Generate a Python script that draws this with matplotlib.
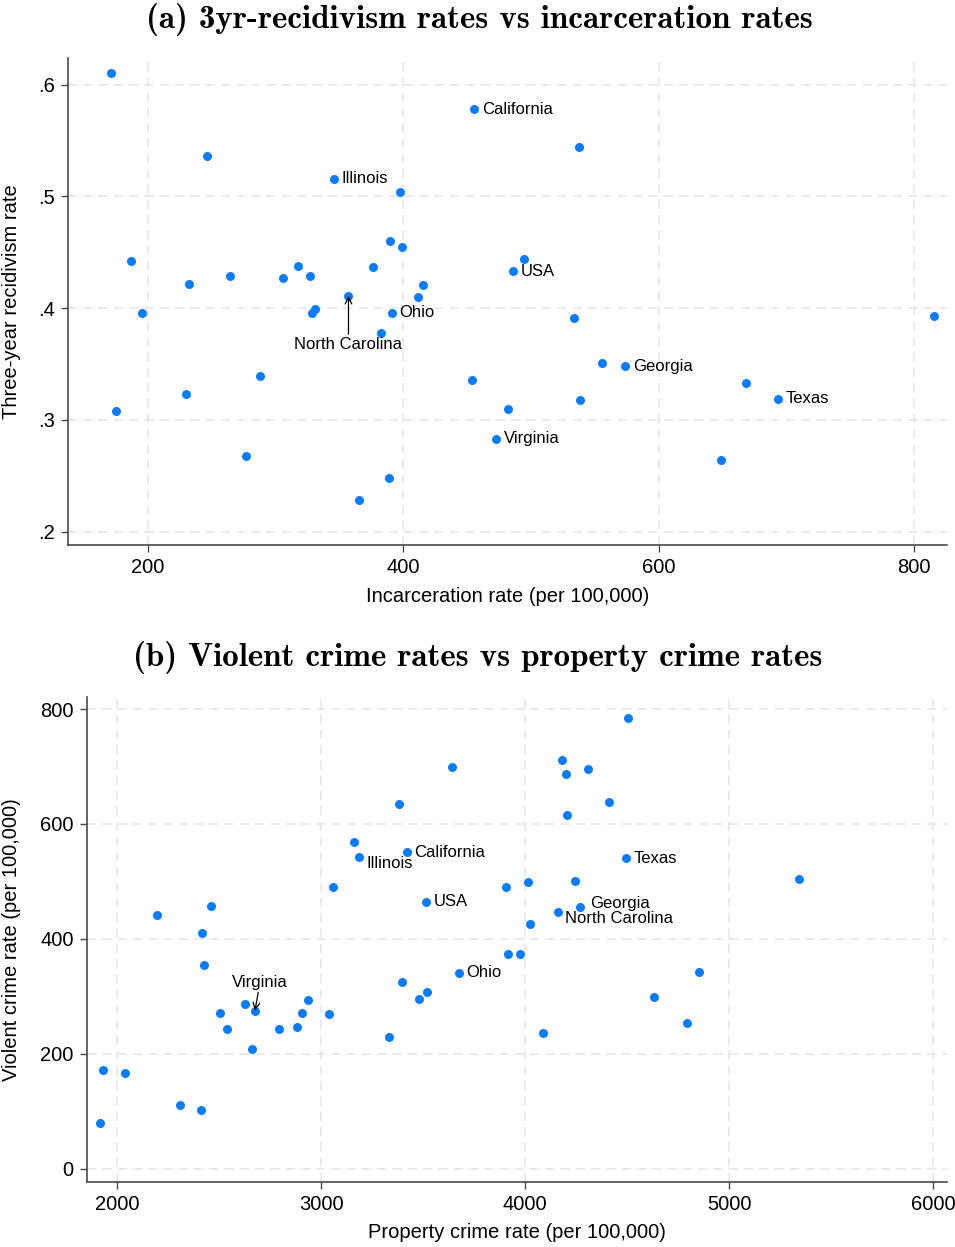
#!/usr/bin/env python3
"""Two-panel scatter: recidivism vs incarceration, violent vs property crime, by state."""

import matplotlib

matplotlib.use("Agg")
import matplotlib.pyplot as plt
from matplotlib.ticker import FuncFormatter

plt.rcParams["font.family"] = ["Liberation Sans", "DejaVu Sans"]

# (a) incarceration rate vs three-year recidivism rate
inc_rate = [171, 246, 345.7, 397.6, 389.5, 398.7, 187, 317.7, 376.5, 264,
            327, 306, 232, 415.6, 357, 411.7, 331, 328.7, 195, 391,
            382.8, 287.7, 453.8, 230, 175, 481.7, 472.6, 277, 388.8, 365,
            455.6, 537.6, 494.8, 485.6, 533.4, 815.4, 555.6, 573.6, 668.4, 693.5,
            538.6, 648.6]
recid_rate = [.611, .536, .516, .504, .460, .455, .442, .438, .437, .429,
              .429, .427, .422, .421, .411, .410, .399, .396, .396, .396,
              .378, .339, .336, .323, .308, .310, .283, .268, .248, .228,
              .578, .544, .444, .433, .391, .393, .351, .348, .333, .319,
              .318, .264]
recid_labels = {2: "Illinois", 19: "Ohio", 26: "Virginia", 30: "California",
                33: "USA", 37: "Georgia", 39: "Texas"}
recid_arrow = {14: "North Carolina"}

# (b) property crime rate vs violent crime rate
property_rate = [3640, 3382, 3163, 3186, 3420, 3057, 3516, 3905, 2198, 2459,
                 2415, 2428, 3675, 3914, 3397, 3520, 3478, 2935, 2626, 2676,
                 2505, 2905, 3039, 2537, 2794, 2884, 2663, 3333, 1933, 2041,
                 2309, 2409, 1917, 4506, 4181, 4199, 4307, 4412, 4207, 4495,
                 5342, 4013, 4244, 4268, 4160, 4025, 3974, 4851, 4634, 4794,
                 4086]
violent_rate = [700, 634, 568, 543, 551, 490, 465, 490, 441, 458,
                411, 355, 341, 373, 325, 308, 295, 293, 286, 275,
                271, 271, 269, 244, 244, 247, 209, 229, 171, 167,
                111, 103, 79, 784, 711, 687, 695, 638, 616, 540,
                504, 499, 500, 455, 447, 426, 374, 343, 298, 254,
                236]
crime_labels = {4: "California", 6: "USA", 12: "Ohio", 39: "Texas"}
crime_labels_below = {3: "Illinois", 44: "North Carolina"}
crime_labels_above = {43: "Georgia"}
crime_arrow = {19: "Virginia"}

MARKER = "#0a7dff"
SPINE = "#4a4a4a"
GRID = "#e6e6e6"
TITLE_FONT = "cmb10"
TITLE_SIZE = 23.8
TICK_SIZE = 14.5
LABEL_SIZE = 14.5
NOTE_SIZE = 12


def style_axes(ax):
    for side in ("top", "right"):
        ax.spines[side].set_visible(False)
    for side in ("left", "bottom"):
        ax.spines[side].set_color(SPINE)
        ax.spines[side].set_linewidth(1.2)
    ax.tick_params(direction="out", length=4.8, width=1.0, color=SPINE,
                   labelsize=TICK_SIZE, pad=4.5)
    ax.grid(True, color=GRID, lw=1.1, ls=(0, (6, 4)))
    ax.set_axisbelow(True)


def label_right(ax, x, y, text, dx=5.5, dy=0):
    ax.annotate(text, (x, y), xytext=(dx, dy), textcoords="offset points",
                ha="left", va="center", fontsize=NOTE_SIZE)


def label_arrow(ax, x, y, text, dx, dy):
    ax.annotate(text, (x, y), xytext=(dx, dy), textcoords="offset points",
                ha="center", va="center", fontsize=NOTE_SIZE,
                arrowprops=dict(arrowstyle="->", color="black", lw=0.9,
                                shrinkA=0, shrinkB=0))


def main():
    fig = plt.figure(figsize=(9.55, 12.47), dpi=100)

    # Panel (a)
    ax_a = fig.add_axes([0.0712, 0.5630, 0.9204, 0.3905])
    style_axes(ax_a)
    ax_a.scatter(inc_rate, recid_rate, s=42, color=MARKER, lw=0, zorder=3)
    for i, name in recid_labels.items():
        label_right(ax_a, inc_rate[i], recid_rate[i], name)
    for i, name in recid_arrow.items():
        label_arrow(ax_a, inc_rate[i], recid_rate[i], name, 0, -35)
    ax_a.set_xlim(137.3, 825.8)
    ax_a.set_ylim(0.188, 0.624)
    ax_a.set_xticks([200, 400, 600, 800])
    ax_a.set_yticks([.2, .3, .4, .5, .6])
    ax_a.yaxis.set_major_formatter(
        FuncFormatter(lambda v, _: f"{v:.1f}".lstrip("0")))
    ax_a.set_xlabel("Incarceration rate (per 100,000)", fontsize=LABEL_SIZE,
                    labelpad=7)
    ax_a.set_ylabel("Three-year recidivism rate", fontsize=LABEL_SIZE)
    ax_a.yaxis.set_label_coords(-0.0535, 0.5)
    fig.text(0.5016, 0.9845, "(a) 3yr-recidivism rates vs incarceration rates",
             ha="center", va="center", fontsize=TITLE_SIZE, family=TITLE_FONT)

    # Panel (b)
    ax_b = fig.add_axes([0.0908, 0.0524, 0.9005, 0.3889])
    style_axes(ax_b)
    ax_b.scatter(property_rate, violent_rate, s=42, color=MARKER, lw=0, zorder=3)
    for i, name in crime_labels.items():
        label_right(ax_b, property_rate[i], violent_rate[i], name)
    for i, name in crime_labels_below.items():
        label_right(ax_b, property_rate[i], violent_rate[i], name, dy=-5)
    for i, name in crime_labels_above.items():
        label_right(ax_b, property_rate[i], violent_rate[i], name, dx=7.5, dy=3)
    for i, name in crime_arrow.items():
        label_arrow(ax_b, property_rate[i], violent_rate[i], name, 3.6, 20.6)
    ax_b.set_xlim(1851, 6067)
    ax_b.set_ylim(-22.6, 821.6)
    ax_b.set_xticks([2000, 3000, 4000, 5000, 6000])
    ax_b.set_yticks([0, 200, 400, 600, 800])
    ax_b.set_xlabel("Property crime rate (per 100,000)", fontsize=LABEL_SIZE,
                    labelpad=7)
    ax_b.set_ylabel("Violent crime rate (per 100,000)", fontsize=LABEL_SIZE)
    ax_b.yaxis.set_label_coords(-0.0764, 0.5)
    fig.text(0.5005, 0.4725, "(b) Violent crime rates vs property crime rates",
             ha="center", va="center", fontsize=TITLE_SIZE, family=TITLE_FONT)

    fig.savefig("out.png", dpi=100)
    plt.close(fig)


if __name__ == "__main__":
    main()
